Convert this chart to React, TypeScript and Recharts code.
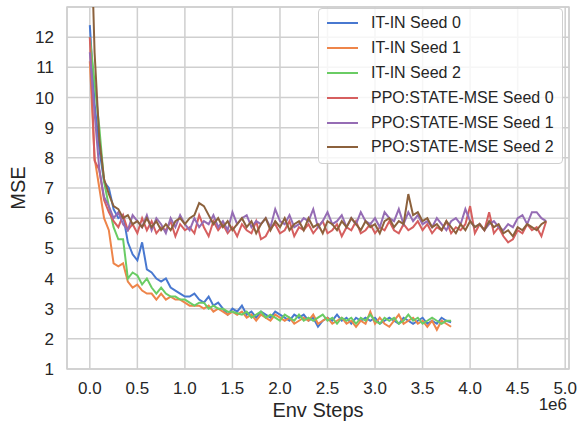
import { CartesianGrid, Legend, Line, LineChart, ReferenceArea, XAxis, YAxis } from 'recharts';

const itInSeed0 = [
  12.4, 9.8, 8.3, 7.2, 7.0, 6.3, 6.0, 6.1, 5.2, 4.8, 4.6, 5.2, 4.3, 4.2, 4.0, 3.9, 4.0, 3.7, 3.6, 3.5,
  3.4, 3.4, 3.5, 3.3, 3.2, 3.4, 3.1, 3.2, 3.0, 2.8, 3.0, 2.9, 3.1, 2.8, 2.9, 2.7, 2.9, 2.8, 2.7, 2.9,
  2.8, 2.7, 2.6, 2.8, 2.7, 2.8, 2.6, 2.7, 2.4, 2.6, 2.7, 2.6, 2.8, 2.6, 2.7, 2.5, 2.7, 2.6, 2.7, 2.6,
  2.7, 2.5, 2.6, 2.7, 2.6, 2.5, 2.7, 2.6, 2.5, 2.6, 2.7, 2.5, 2.6, 2.5, 2.7, 2.6, 2.55
];
const itInSeed1 = [
  11.2, 8.0, 7.0, 6.0, 5.6, 4.5, 4.4, 4.5, 3.9, 3.7, 3.8, 3.6, 3.5, 3.5, 3.3, 3.5, 3.3, 3.4, 3.3, 3.3,
  3.2, 3.1, 3.1, 3.1, 3.0, 3.1, 2.9, 3.0, 2.9, 2.8, 2.9, 2.8, 2.9, 2.7, 2.8, 2.6, 2.8, 2.7, 2.6, 2.8,
  2.7, 2.6, 2.7, 2.5, 2.6, 2.7, 2.6, 2.8, 2.5, 2.6, 2.7, 2.5, 2.6, 2.7, 2.5, 2.6, 2.4, 2.6, 2.5, 2.9,
  2.5, 2.7, 2.5, 2.4, 2.6, 2.8, 2.5, 2.6, 2.7, 2.5, 2.6, 2.4, 2.6, 2.3, 2.6, 2.5, 2.4
];
const itInSeed2 = [
  12.0, 10.5, 9.0, 7.2, 6.4, 5.7, 5.3, 5.3, 4.0, 4.2, 4.1, 3.8, 4.0, 3.7, 3.5, 3.7, 3.5, 3.4, 3.4, 3.3,
  3.3, 3.2, 3.1, 3.2, 3.2, 3.0, 3.1, 3.0, 3.0, 2.9, 2.9, 2.85, 2.8, 2.9, 2.7, 2.8, 2.9, 2.7, 2.8, 2.7,
  2.6, 2.8, 2.7, 2.6, 2.8, 2.6, 2.7, 2.6, 2.7, 2.8, 2.6, 2.7, 2.5, 2.7, 2.6, 2.7, 2.5, 2.7, 2.6, 2.8,
  2.6, 2.5, 2.7, 2.6, 2.7, 2.5, 2.6, 2.8, 2.6, 2.7, 2.5, 2.6, 2.7, 2.6, 2.5, 2.6, 2.6
];
const ppoSeed0 = [
  12.0, 7.9, 7.6, 6.6, 6.2, 5.9, 5.7, 6.1, 5.6, 5.8, 5.5, 6.0, 5.6, 5.9, 5.5, 5.7, 5.6, 5.9, 5.4, 5.8,
  5.6, 5.7, 5.5, 6.1, 5.7, 5.4, 5.9, 5.6, 5.8, 5.5, 5.7, 5.4, 5.8, 5.6, 5.5, 5.9, 5.3, 5.4, 5.7, 5.8,
  5.5, 5.6, 5.9, 5.4, 5.7, 5.6, 5.8, 5.5, 5.7, 5.9, 5.5, 5.6, 5.8, 5.4, 5.7, 5.6, 5.9, 5.5, 5.6, 5.8,
  5.5, 5.7, 5.6, 5.9, 5.6, 5.5, 5.8, 5.6, 5.7, 5.9, 5.6, 5.8, 5.5, 5.7, 5.6, 5.9, 5.5, 5.7, 5.6, 5.8,
  6.4, 5.5, 5.8, 5.6, 6.2, 5.5, 5.7, 5.4, 5.2, 5.3, 5.6, 5.5, 5.8, 5.6, 5.7, 5.4, 5.9
];
const ppoSeed1 = [
  11.5, 9.5, 7.6, 6.7, 6.4, 6.0, 6.2, 5.8, 5.6, 6.1, 5.9, 5.7, 6.1, 5.6, 6.0, 5.8, 5.5, 6.0, 5.7, 6.1,
  5.8, 5.6, 6.0, 5.7, 5.9, 5.8, 6.1, 5.7, 5.9, 5.6, 6.2, 5.8, 6.0, 6.1, 5.7, 5.9, 5.8, 6.0, 5.7, 6.3,
  5.9, 5.8, 6.1, 5.7, 5.8, 6.0, 5.9, 6.3, 5.7, 5.9, 6.2, 5.8, 5.9, 6.1, 5.7, 6.0, 5.8, 6.2, 5.9, 5.8,
  6.0, 5.7, 6.2, 6.0, 5.9, 6.3, 5.8, 6.2, 5.9, 6.1, 5.8, 5.9, 5.7, 6.0, 5.8, 5.6, 5.9, 6.0, 5.8, 6.3,
  5.9, 5.7, 5.8, 5.6, 5.8, 5.9, 5.7, 5.6, 5.8, 5.7, 6.0, 6.1, 5.8, 6.2, 6.2, 6.0, 5.9
];
const ppoSeed2 = [
  17.0, 11.5, 8.6, 7.3, 6.8, 6.4, 6.3, 6.0, 6.1, 5.8, 5.9, 5.7, 6.0, 5.7, 5.9, 5.6, 5.8, 5.6, 5.9, 6.0,
  5.8, 6.0, 6.1, 6.5, 6.4, 6.1, 5.8, 6.0, 5.7, 5.9, 5.6, 5.8, 6.0, 5.7, 5.9, 5.5, 5.8, 6.0, 5.6, 5.9,
  5.7, 6.0, 5.6, 5.8, 5.9, 5.6, 6.0, 5.7, 5.8, 5.5, 5.9, 5.8, 5.6, 5.9, 5.7, 6.0, 5.8, 5.6, 5.9, 5.7,
  5.8, 5.5, 5.9, 6.0, 5.7, 5.9, 5.8, 6.8, 6.1, 6.2, 5.9, 6.0, 5.7, 5.8, 5.6, 5.9, 5.7, 5.5, 5.8, 5.6,
  5.9, 5.7, 5.8, 5.6, 5.9, 5.7, 5.8, 5.5, 5.6, 5.4, 5.7, 5.6, 5.8, 5.7, 5.6, 5.8, 5.9
];

const seriesNames = [
  'IT-IN Seed 0', 'IT-IN Seed 1', 'IT-IN Seed 2',
  'PPO:STATE-MSE Seed 0', 'PPO:STATE-MSE Seed 1', 'PPO:STATE-MSE Seed 2'
];
const seriesValues = [itInSeed0, itInSeed1, itInSeed2, ppoSeed0, ppoSeed1, ppoSeed2];
const colors = ['#4878d0', '#ee854a', '#6acc64', '#d65f5f', '#956cb4', '#8c613c'];
const xTicks = [0, 0.5, 1, 1.5, 2, 2.5, 3, 3.5, 4, 4.5, 5];
const yTicks = [1, 2, 3, 4, 5, 6, 7, 8, 9, 10, 11, 12];
const LOG_EVERY = 0.05;

const FONT = '"Liberation Sans", Arial, sans-serif';
const TEXT = '#262626';
const GRID = '#cfcfcf';

const series = seriesValues.map((vals, s) => ({
  name: seriesNames[s],
  color: colors[s],
  rows: vals.map((y, i) => ({ x: Math.round(i * LOG_EVERY * 100) / 100, y }))
}));

function LegendBox({ payload }: any) {
  return (
    <div
      style={{
        width: 245,
        boxSizing: 'border-box',
        padding: '2px 0 3px 8px',
        background: 'rgba(255,255,255,0.8)',
        border: `1px solid ${GRID}`,
        borderRadius: 4,
        fontFamily: FONT,
        fontSize: 16,
        color: TEXT
      }}
    >
      {(payload || []).map((p: any) => (
        <div key={p.value} style={{ display: 'flex', alignItems: 'center', height: 24.8 }}>
          <span style={{ display: 'inline-block', width: 31, height: 2, background: p.color, marginRight: 13 }} />
          <span>{p.value}</span>
        </div>
      ))}
    </div>
  );
}

export default function App() {
  return (
    <div style={{ position: 'absolute', left: 0, top: 0, width: 580, height: 421, background: '#fff' }}>
      <LineChart width={580} height={421} margin={{ top: 7, right: 11, bottom: 0, left: 0 }}>
        <CartesianGrid stroke={GRID} strokeWidth={1.5} />
        <XAxis
          dataKey="x"
          type="number"
          domain={[-0.24, 5.04]}
          ticks={xTicks}
          allowDataOverflow
          height={52}
          tickLine={false}
          tickSize={0}
          tickMargin={13}
          axisLine={false}
          tickFormatter={(v: number) => v.toFixed(1)}
          tick={{ fill: TEXT, fontSize: 17, fontFamily: FONT }}
          label={{
            content: () => (
              <g fontFamily={FONT} fill={TEXT}>
                <text x={318} y={417} textAnchor="middle" fontSize={20}>Env Steps</text>
                <text x={567} y={410} textAnchor="end" fontSize={17}>1e6</text>
              </g>
            )
          }}
        />
        <YAxis
          type="number"
          domain={[1, 13]}
          ticks={yTicks}
          allowDataOverflow
          width={67}
          tickLine={false}
          tickSize={0}
          tickMargin={13}
          axisLine={false}
          tick={{ fill: TEXT, fontSize: 17, fontFamily: FONT }}
          label={{
            content: () => (
              <text
                x={25}
                y={188}
                transform="rotate(-90 25 188)"
                textAnchor="middle"
                fontSize={20}
                fontFamily={FONT}
                fill={TEXT}
              >
                MSE
              </text>
            )
          }}
        />
        <ReferenceArea x1={-0.24} x2={5.04} y1={1} y2={13} fill="none" stroke={GRID} strokeWidth={1.5} ifOverflow="visible" />
        {series.map((s) => (
          <Line
            key={s.name}
            data={s.rows}
            dataKey="y"
            name={s.name}
            type="linear"
            stroke={s.color}
            strokeWidth={2}
            dot={false}
            activeDot={false}
            isAnimationActive={false}
          />
        ))}
        <Legend
          layout="vertical"
          align="center"
          verticalAlign="middle"
          content={<LegendBox />}
          wrapperStyle={{ left: 318, top: 8, width: 245 }}
        />
      </LineChart>
    </div>
  );
}
